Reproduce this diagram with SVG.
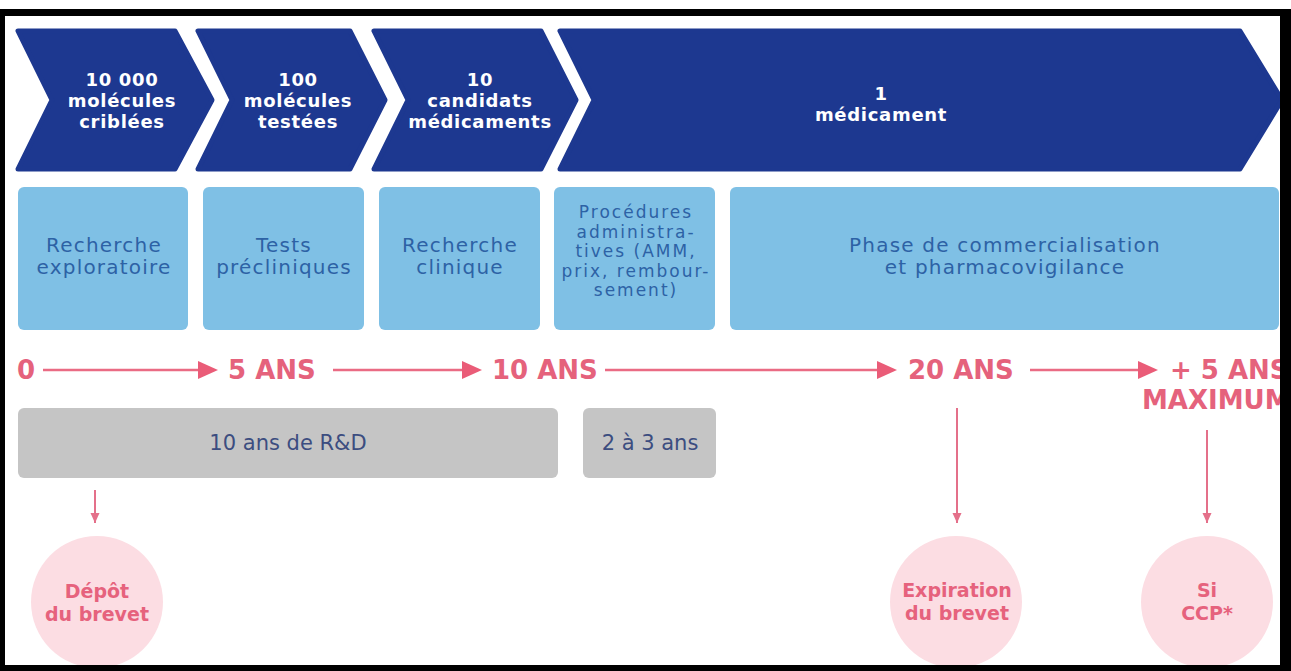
<svg xmlns="http://www.w3.org/2000/svg" width="1291" height="671" viewBox="0 0 1291 671">
<defs>
<style>
.chev{fill:#1d3890;stroke:#1d3890;stroke-width:5;stroke-linejoin:round}
.ct{font-family:"DejaVu Sans",sans-serif;font-weight:bold;font-size:18px;letter-spacing:0.7px;fill:#ffffff;text-anchor:middle}
.box{fill:#7fc0e5}
.bt{font-family:"DejaVu Sans",sans-serif;font-size:20px;letter-spacing:1.2px;fill:#2d62a5;text-anchor:middle}
.bt4{font-size:17px;letter-spacing:2px}
.gbox{fill:#c5c5c5}
.gt{font-family:"DejaVu Sans",sans-serif;font-size:21px;fill:#3c4d80;text-anchor:middle}
.tl{font-family:"DejaVu Sans",sans-serif;font-weight:bold;font-size:26px;fill:#e5627c}
.line{stroke:#ea6b84;stroke-width:2.5;fill:none}
.vline{stroke:#e4708a;stroke-width:2;fill:none}
.circ{fill:#fcdde3}
.cirt{font-family:"DejaVu Sans",sans-serif;font-weight:bold;font-size:19px;fill:#e6627d;text-anchor:middle}
.frame{fill:#000000}
</style>
<marker id="big" markerUnits="userSpaceOnUse" markerWidth="21" markerHeight="19" refX="0" refY="9" orient="auto" viewBox="0 0 21 19">
<path d="M0,0 L20,9 L0,18 Z" fill="#ea5c78"/>
</marker>
<marker id="small" markerUnits="userSpaceOnUse" markerWidth="11" markerHeight="10" refX="10" refY="4.5" orient="auto" viewBox="0 0 11 10">
<path d="M0,0 L10,4.5 L0,9 Z" fill="#e4708a"/>
</marker>
</defs>
<rect x="0" y="0" width="1291" height="671" fill="#ffffff"/>

<g id="chevron-1">
<polygon class="chev" points="18,31 175,31 212,100 175,169 18,169 52,100"/>
<text class="ct" x="122" y="86">10 000</text>
<text class="ct" x="122" y="107">molécules</text>
<text class="ct" x="122" y="128">criblées</text>
</g>
<g id="chevron-2">
<polygon class="chev" points="198,31 350,31 385,100 350,169 198,169 232,100"/>
<text class="ct" x="298" y="86">100</text>
<text class="ct" x="298" y="107">molécules</text>
<text class="ct" x="298" y="128">testées</text>
</g>
<g id="chevron-3">
<polygon class="chev" points="374,31 541,31 576,100 541,169 374,169 408,100"/>
<text class="ct" x="480" y="86">10</text>
<text class="ct" x="480" y="107">candidats</text>
<text class="ct" x="480" y="128">médicaments</text>
</g>
<g id="chevron-4">
<polygon class="chev" points="560,31 1240,31 1282,100 1240,169 560,169 594,100"/>
<text class="ct" x="881" y="100">1</text>
<text class="ct" x="881" y="121">médicament</text>
</g>

<g id="box-recherche-exploratoire">
<rect class="box" x="18" y="187" width="170" height="143" rx="6"/>
<text class="bt" x="104" y="252">Recherche</text>
<text class="bt" x="104" y="274">exploratoire</text>
</g>
<g id="box-tests-precliniques">
<rect class="box" x="203" y="187" width="161" height="143" rx="6"/>
<text class="bt" x="284" y="252">Tests</text>
<text class="bt" x="284" y="274">précliniques</text>
</g>
<g id="box-recherche-clinique">
<rect class="box" x="379" y="187" width="161" height="143" rx="6"/>
<text class="bt" x="460" y="252">Recherche</text>
<text class="bt" x="460" y="274">clinique</text>
</g>
<g id="box-procedures">
<rect class="box" x="554" y="187" width="161" height="143" rx="6"/>
<text class="bt bt4" x="636" y="218">Procédures</text>
<text class="bt bt4" x="636" y="237.5">administra-</text>
<text class="bt bt4" x="636" y="257">tives (AMM,</text>
<text class="bt bt4" x="636" y="276.5">prix, rembour-</text>
<text class="bt bt4" x="636" y="296">sement)</text>
</g>
<g id="box-commercialisation">
<rect class="box" x="730" y="187" width="549" height="143" rx="6"/>
<text class="bt" x="1005" y="252">Phase de commercialisation</text>
<text class="bt" x="1005" y="274">et pharmacovigilance</text>
</g>

<g id="connectors">
<line class="line" x1="43" y1="370" x2="198" y2="370" marker-end="url(#big)"/>
<line class="line" x1="333" y1="370" x2="462" y2="370" marker-end="url(#big)"/>
<line class="line" x1="605" y1="370" x2="877" y2="370" marker-end="url(#big)"/>
<line class="line" x1="1030" y1="370" x2="1138" y2="370" marker-end="url(#big)"/>
<line class="vline" x1="95" y1="490" x2="95" y2="523" marker-end="url(#small)"/>
<line class="vline" x1="957" y1="408" x2="957" y2="523" marker-end="url(#small)"/>
<line class="vline" x1="1207" y1="430" x2="1207" y2="523" marker-end="url(#small)"/>
</g>

<g id="t-0"><text class="tl" x="17" y="379">0</text></g>
<g id="t-5"><text class="tl" x="228" y="379">5 ANS</text></g>
<g id="t-10"><text class="tl" x="492" y="379">10 ANS</text></g>
<g id="t-20"><text class="tl" x="908" y="379">20 ANS</text></g>
<g id="t-plus5">
<text class="tl" x="1170" y="379">+ 5 ANS</text>
<text class="tl" x="1142" y="409">MAXIMUM</text>
</g>

<g id="gray-rd">
<rect class="gbox" x="18" y="408" width="540" height="70" rx="6"/>
<text class="gt" x="288" y="450">10 ans de R&amp;D</text>
</g>
<g id="gray-2-3">
<rect class="gbox" x="583" y="408" width="133" height="70" rx="6"/>
<text class="gt" x="650" y="450">2 à 3 ans</text>
</g>

<g id="circle-depot">
<circle class="circ" cx="97" cy="602" r="66"/>
<text class="cirt" x="97" y="598">Dépôt</text>
<text class="cirt" x="97" y="621">du brevet</text>
</g>
<g id="circle-expiration">
<circle class="circ" cx="956" cy="602" r="66"/>
<text class="cirt" x="957" y="597">Expiration</text>
<text class="cirt" x="957" y="620">du brevet</text>
</g>
<g id="circle-ccp">
<circle class="circ" cx="1207" cy="602" r="66"/>
<text class="cirt" x="1207" y="597">Si</text>
<text class="cirt" x="1207" y="620">CCP*</text>
</g>

<g id="frame">
<rect class="frame" x="0" y="9" width="1291" height="7"/>
<rect class="frame" x="0" y="9" width="5" height="662"/>
<rect class="frame" x="1280" y="9" width="11" height="662"/>
<rect class="frame" x="0" y="665" width="1291" height="6"/>
</g>
</svg>
